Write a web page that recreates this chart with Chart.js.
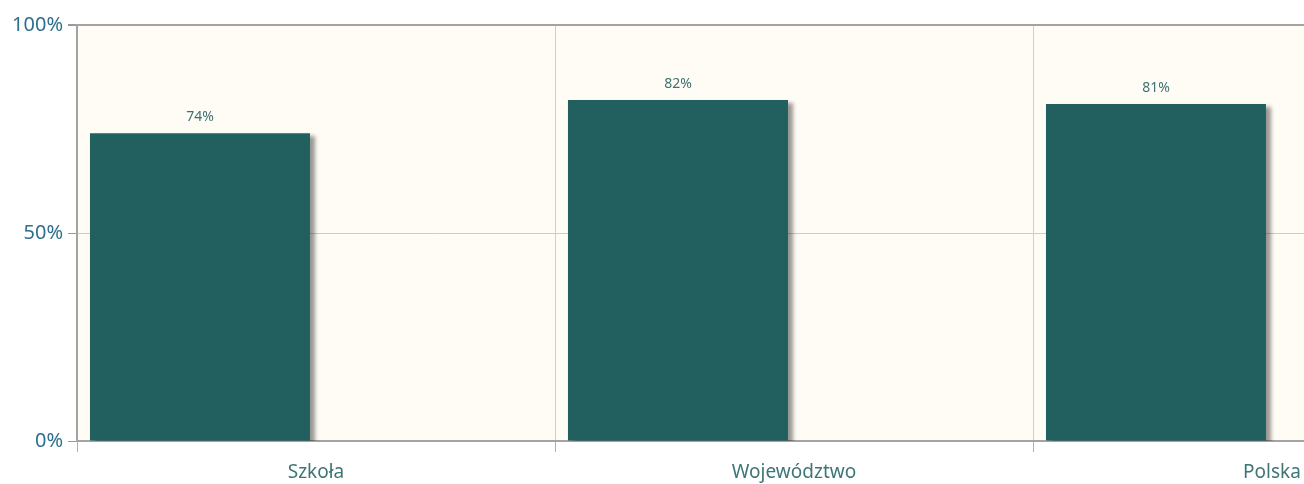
<!DOCTYPE html>
<html>
<head>
<meta charset="utf-8">
<script src="https://cdn.jsdelivr.net/npm/chart.js@4/dist/chart.umd.min.js"></script>
<style>
  html, body { margin: 0; padding: 0; background: #fff; overflow: hidden; }
  #wrap { width: 1520px; height: 484px; position: relative; }
</style>
</head>
<body>
<div id="wrap"><canvas id="chart"></canvas></div>
<script>
const categories = ['Szkoła', 'Województwo', 'Polska'];
const scores = [74, 82, 81];
const emptySlot = [null, null, null];
const yTicks = [0, 50, 100];

const FONT = "'Noto Sans', sans-serif";
const AXIS_GRAY = '#a3a3a3';

// cream fill behind the plot area
const plotBackground = {
  id: 'plotBackground',
  beforeDraw(chart) {
    const { ctx, chartArea: a } = chart;
    ctx.save();
    ctx.fillStyle = '#fffcf5';
    ctx.fillRect(a.left, a.top, a.right - a.left, a.bottom - a.top);
    ctx.restore();
  }
};

// soft drop shadow on the bars
const barShadow = {
  id: 'barShadow',
  beforeDatasetDraw(chart) {
    const ctx = chart.ctx;
    ctx.save();
    ctx.shadowColor = 'rgba(0, 0, 0, 0.4)';
    ctx.shadowOffsetX = 5;
    ctx.shadowOffsetY = 3;
    ctx.shadowBlur = 4;
  },
  afterDatasetDraw(chart) {
    chart.ctx.restore();
  }
};

// percentage above every bar
const valueLabels = {
  id: 'valueLabels',
  afterDatasetsDraw(chart) {
    const ctx = chart.ctx;
    const meta = chart.getDatasetMeta(0);
    ctx.save();
    ctx.font = '14px ' + FONT;
    ctx.fillStyle = '#3e7272';
    ctx.textAlign = 'center';
    ctx.textBaseline = 'bottom';
    meta.data.forEach((bar, i) => {
      ctx.fillText(scores[i] + '%', bar.x, bar.y - 9);
    });
    ctx.restore();
  }
};

new Chart(document.getElementById('chart'), {
  type: 'bar',
  data: {
    labels: categories,
    datasets: [
      {
        data: scores,
        backgroundColor: '#21605f',
        borderWidth: 0,
        categoryPercentage: 0.971,
        barPercentage: 0.948
      },
      {
        data: emptySlot,
        backgroundColor: 'rgba(0,0,0,0)',
        categoryPercentage: 0.971,
        barPercentage: 0.948
      }
    ]
  },
  options: {
    responsive: true,
    maintainAspectRatio: false,
    animation: false,
    layout: { padding: { top: 25, right: 9, left: 0, bottom: 0 } },
    scales: {
      x: {
        grid: {
          offset: true,
          color: '#cfcfcf',
          tickColor: '#b0b0b0',
          tickLength: 11
        },
        border: { color: AXIS_GRAY, width: 2 },
        ticks: {
          color: '#3e7575',
          font: { family: FONT, size: 19 },
          padding: 9
        },
        afterFit(scale) { scale.height = 43; }
      },
      y: {
        min: 0,
        max: 100,
        afterBuildTicks(scale) { scale.ticks = yTicks.map(v => ({ value: v })); },
        grid: {
          color: ctx => ctx.tick && ctx.tick.value === 50 ? '#cccccc' : AXIS_GRAY,
          lineWidth: ctx => ctx.tick && ctx.tick.value === 100 ? 2 : 1,
          tickColor: '#999',
          tickLength: 9
        },
        border: { color: AXIS_GRAY, width: 2 },
        ticks: {
          color: '#2f6f8f',
          font: { family: FONT, size: 20 },
          padding: 5,
          callback: v => v + '%'
        },
        afterFit(scale) { scale.width = 77; }
      }
    },
    plugins: {
      legend: { display: false },
      tooltip: { enabled: false }
    }
  },
  plugins: [plotBackground, barShadow, valueLabels]
});
</script>
</body>
</html>
